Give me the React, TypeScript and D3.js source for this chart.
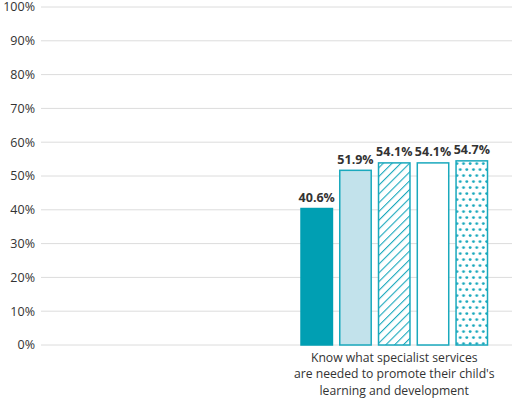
import React from "react";
import * as d3 from "d3";

const categories = ["", "Know what specialist services|are needed to promote their child's|learning and development"];
const seriesNames = ["Series A", "Series B", "Series C", "Series D", "Series E"];
const seriesValues: (number | null)[][] = [
  [null, 40.6],
  [null, 51.9],
  [null, 54.1],
  [null, 54.1],
  [null, 54.7],
];
const yTicks = [0, 10, 20, 30, 40, 50, 60, 70, 80, 90, 100];

const W = 512, H = 399;
const margin = { left: 41, right: 0, top: 7, bottom: 54 };
const TEAL = "#009fb3";
const STROKE = "#1aa9bd";
const LIGHT = "#c2e2eb";
const FONT = "'Open Sans', Lato, sans-serif";
const GROUP_W = 188;

export default function App() {
  const x = d3.scaleBand<string>().domain(categories).range([margin.left, W - margin.right]);
  const y = d3.scaleLinear().domain([0, 100]).range([H - margin.bottom, margin.top]);
  const inner = d3.scaleBand<string>().domain(seriesNames).range([0, GROUP_W]).paddingInner(0.15);
  const groupOffset = (x.bandwidth() - GROUP_W) / 2;

  const fills = [TEAL, LIGHT, "url(#hatch)", "#fff", "url(#dots)"];
  const strokes = [TEAL, STROKE, STROKE, STROKE, STROKE];

  return (
    <svg width={W} height={H} style={{ position: "absolute", left: 0, top: 0 }}>
      <defs>
        <pattern id="hatch" patternUnits="userSpaceOnUse" width="6.2" height="6.2" patternTransform="rotate(45)">
          <rect width="6.2" height="6.2" fill="#fff" />
          <line x1="0" y1="0" x2="0" y2="6.2" stroke={STROKE} strokeWidth="2.2" />
        </pattern>
        <pattern id="dots" patternUnits="userSpaceOnUse" width="6.6" height="12">
          <rect width="6.6" height="12" fill="#fff" />
          <circle cx="1.6" cy="1.6" r="1.4" fill={STROKE} />
          <circle cx="4.9" cy="7.6" r="1.4" fill={STROKE} />
        </pattern>
      </defs>
      {yTicks.map((t) => (
        <g key={t}>
          <line x1={margin.left} x2={W - margin.right} y1={y(t)} y2={y(t)} stroke="#dcdcdc" strokeWidth={1} />
          <text x={35} y={y(t)} dy="0.35em" textAnchor="end" fontSize={12.5} fontFamily={FONT} fill="#333">
            {t}%
          </text>
        </g>
      ))}
      {categories.map((c, ci) => (
        <g key={ci} transform={`translate(${(x(c) ?? 0) + groupOffset},0)`}>
          {seriesNames.map((s, si) => {
            const v = seriesValues[si][ci];
            if (v == null) return null;
            const bx = inner(s) ?? 0;
            const bw = inner.bandwidth();
            return (
              <g key={s}>
                <rect x={bx + 0.75} y={y(v) + 0.75} width={bw - 1.5} height={y(0) - y(v) - 0.75} fill={fills[si]} stroke={strokes[si]} strokeWidth={1.5} />
                <text x={bx + bw / 2} y={y(v) - 6} textAnchor="middle" fontSize={12.5} fontWeight="bold" fontFamily={FONT} fill="#333">
                  {v.toFixed(1)}%
                </text>
              </g>
            );
          })}
        </g>
      ))}
      {categories.map((c, ci) => (
        <text key={ci} x={(x(c) ?? 0) + x.bandwidth() / 2} textAnchor="middle" fontSize={12.2} fontFamily={FONT} fill="#333">
          {c.split("|").filter(Boolean).map((line, li) => (
            <tspan key={li} x={(x(c) ?? 0) + x.bandwidth() / 2} y={361.5 + li * 16.5}>
              {line}
            </tspan>
          ))}
        </text>
      ))}
    </svg>
  );
}
